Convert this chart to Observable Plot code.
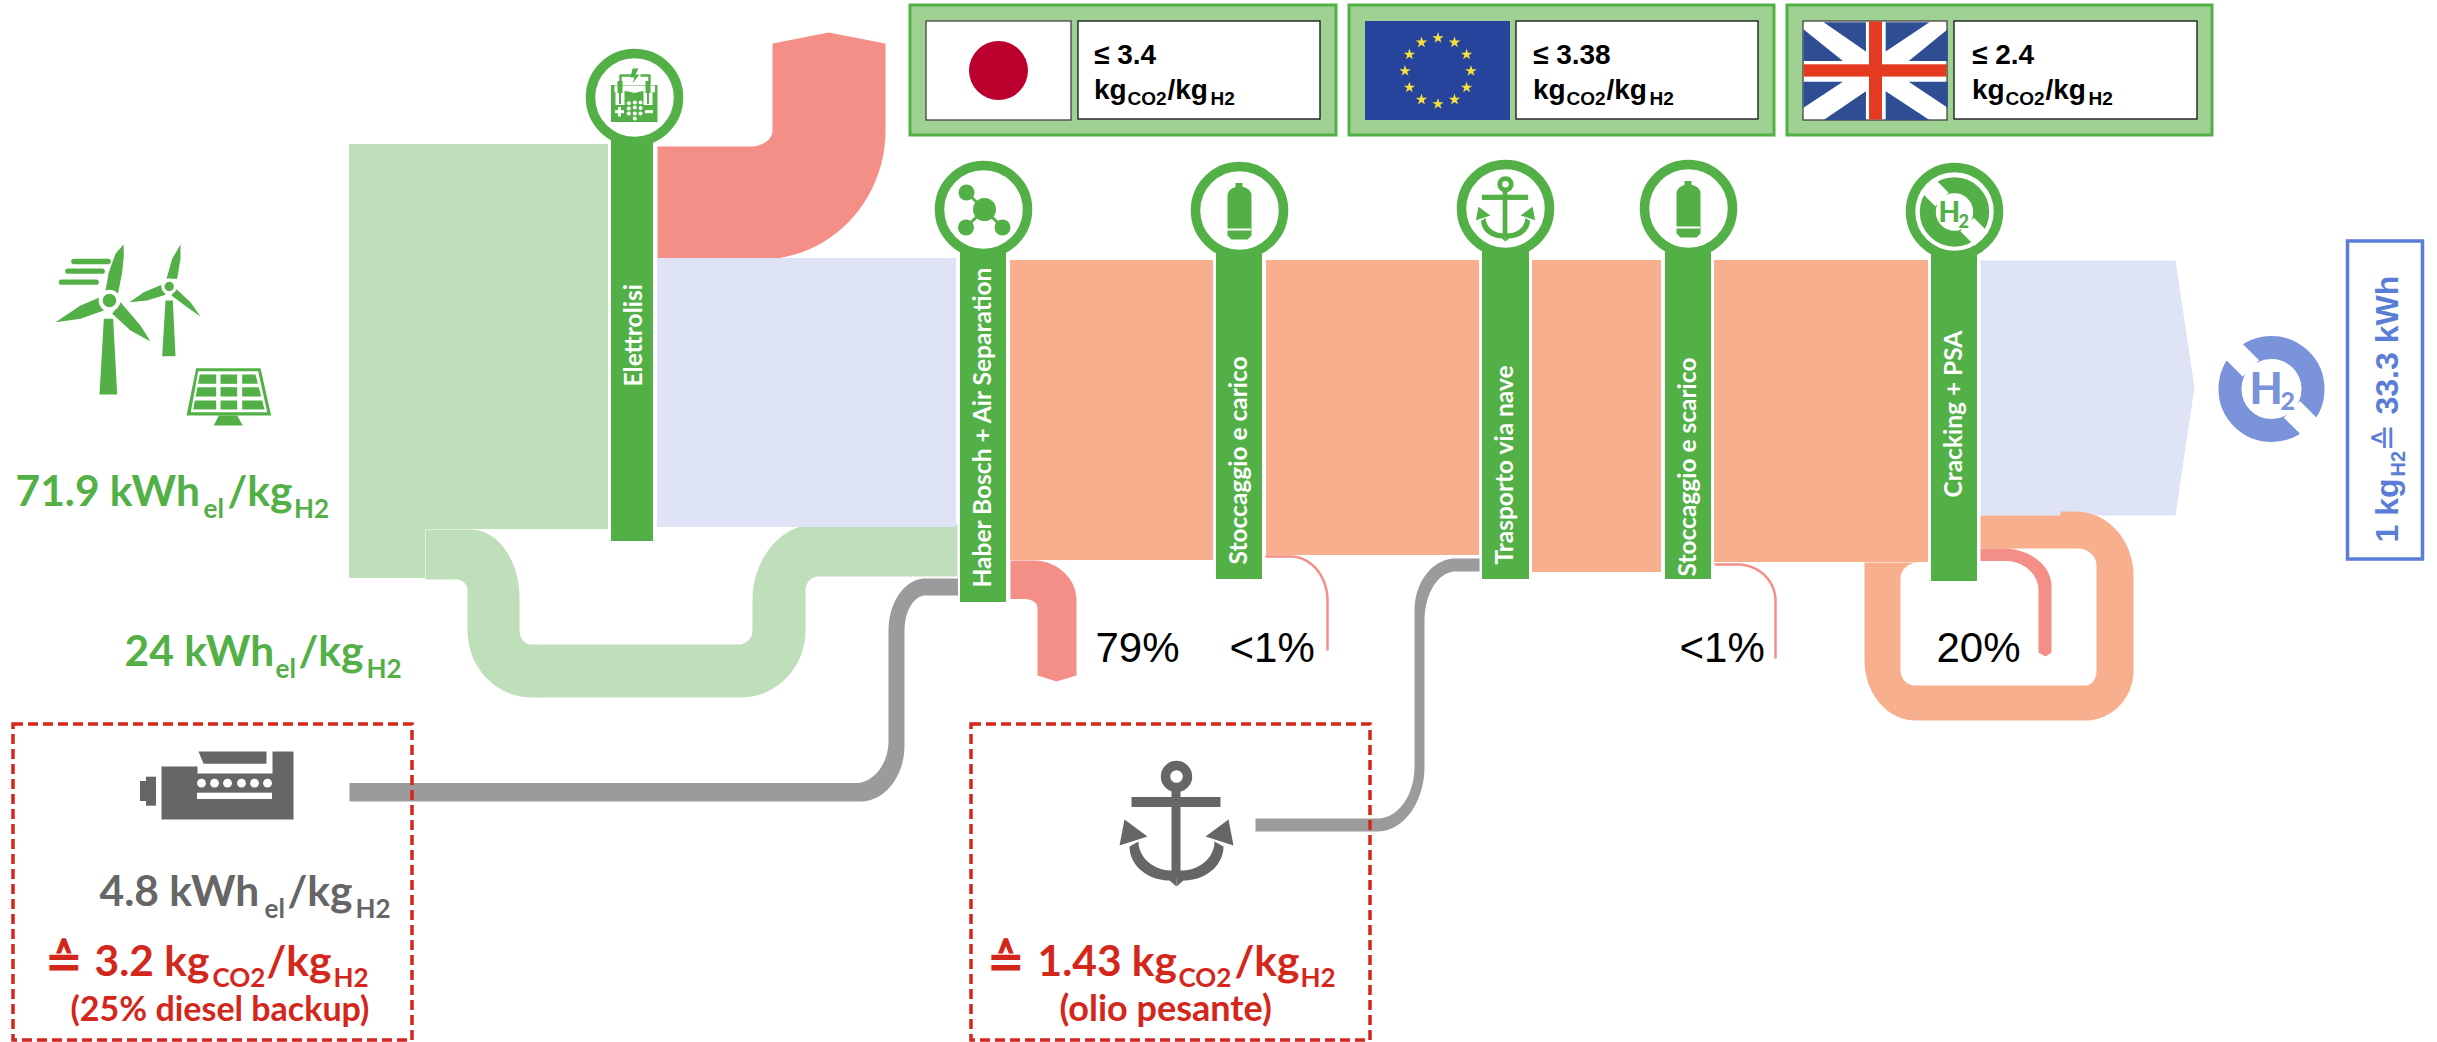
<!DOCTYPE html>
<html><head><meta charset="utf-8">
<style>html,body{margin:0;padding:0;background:#fff}svg{display:block;max-width:none}</style>
<script src="https://cdn.jsdelivr.net/npm/d3@7"></script>
<script src="https://cdn.jsdelivr.net/npm/@observablehq/plot@0.6"></script>
</head><body><div id="chart"></div>
<script>
// ---------- chart content ----------
const stageNames = ["Elettrolisi","Haber Bosch + Air Separation","Stoccaggio e carico","Trasporto via nave","Stoccaggio e scarico","Cracking + PSA"];
const stageLeft   = [610, 959, 1215, 1481, 1664, 1930];
const stageRight  = [654, 1007, 1263, 1530, 1712, 1978];
const stageTop    = [120, 240, 240, 240, 240, 240];
const stageBottom = [542, 603, 580, 580, 580, 582];
const stageCentre = [634, 983, 1239, 1505, 1688, 1954];
const ringY       = [97, 209, 210, 208, 208, 211];
const labelStart  = [386, 587, 564, 564, 576, 497];

const flowGreen = [[349,608,144,529],[349,425,529,578]];
const flowBlue = [[657,956,258,527],[1980,2175,260,515]];
const flowOrange = [[1010,1213,260,560],[1266,1479,260,555],[1532,1661,260,572],[1714,1928,260,562]];

const lossLabels = ["79%","<1%","<1%","20%"];
const lossX = [1095,1229,1679,1936];

const limitValues = ["≤ 3.4","≤ 3.38","≤ 2.4"];
const limitOffset = [0,439,878];
const limitBoxX = [[910,1336],[1349,1774],[1787,2212]];
const limitFlagX = [[926,1071],[1365,1510],[1803,1947]];
const limitTextX = [[1078,1320],[1516,1758],[1954,2197]];

const dashedX = [[13,412],[971,1370]];

const GREEN="#52B047", LGREEN="#BFDFBA", BLUE="#DEE4F6", ORANGE="#F7AF8D", RED="#F48F88", GREY="#9B9B9B", DGREY="#666666", DRED="#D3271C", HBLUE="#7A93DA", BBLUE="#5A7ED6";
const LATO="Lato, Carlito, sans-serif", ARIAL="'Liberation Sans', Arial, sans-serif", DEJA="'DejaVu Sans', sans-serif";

// ---------- helpers ----------
const N=24, T=[...Array(N+1).keys()].map(i=>i/N*Math.PI/2);
// quarter ellipse starting horizontally / starting vertically
const ch=(x0,y0,x1,y1)=>T.map(t=>[x0+(x1-x0)*Math.sin(t), y1+(y0-y1)*Math.cos(t)]);
const cv=(x0,y0,x1,y1)=>T.map(t=>[x1+(x0-x1)*Math.cos(t), y0+(y1-y0)*Math.sin(t)]);
const X=d=>d[0], Y=d=>d[1];
const poly=(pts,fill)=>Plot.line(pts,{x:X,y:Y,fill,stroke:"none"});
const path=(pts,stroke,strokeWidth,o={})=>Plot.line(pts,{x:X,y:Y,stroke,strokeWidth,...o});
const rects=(rows,fill,o={})=>Plot.rect(rows,{x1:d=>d[0],x2:d=>d[1],y1:d=>d[2],y2:d=>d[3],fill,...o});
const dots=(rows,o)=>Plot.dot(rows,{x:X,y:Y,...o});
const texts=(rows,fill,fontFamily,fontWeight,o={})=>Plot.text(rows,{x:d=>d[1],y:d=>d[2],text:d=>d[0],fontSize:d=>d[3],fill,fontFamily,fontWeight,textAnchor:"start",lineAnchor:"bottom",...o});

function anchor(cx,top,k,col){
  const px=x=>cx+x*k, py=y=>top+y*k;
  const side=s=>{
    const a=x=>cx+s*x*k;
    const outer=cv(a(47),py(85),a(7),py(119));
    const inner=cv(a(38),py(80),a(5),py(109));
    return [poly([...outer,[cx,py(125)],[cx,py(109)],...inner.reverse()],col),
            poly([[a(52),py(58)],[a(57),py(84)],[a(29),py(75)]],col)];
  };
  return [
    dots([[cx,py(15)]],{r:11*k,stroke:col,strokeWidth:9.4*k,fill:"none"}),
    rects([[px(-44.5),px(44.5),py(36),py(46)]],col),
    rects([[px(-4.5),px(4.5),py(24),py(118)]],col),
    ...side(1),...side(-1)
  ];
}
function tank(cx,dy){
  const top=186+dy, bot=239+dy, hw=12;
  return [
    rects([[cx-3.5,cx+3.5,183+dy,188+dy]],GREEN),
    poly([...cv(cx-hw,top+9,cx,top),...ch(cx,top,cx+hw,top+9),[cx+hw,bot-4],[cx+hw-4,bot],[cx-hw+4,bot],[cx-hw,bot-4]],GREEN),
    rects([[cx-hw,cx+hw,228.5+dy,230.5+dy]],"#fff")
  ];
}
function donut(cx,cy,outer,inner,slash,ext,col){
  const d=Math.SQRT1_2, r1=inner-1, r2=outer+ext;
  return [
    dots([[cx,cy]],{r:(outer+inner)/2,stroke:col,strokeWidth:outer-inner,fill:"none"}),
    path([[cx-r2*d,cy-r2*d],[cx-r1*d,cy-r1*d]],"#fff",slash,{strokeLinecap:"butt"}),
    path([[cx+r2*d,cy+r2*d],[cx+r1*d,cy+r1*d]],"#fff",slash,{strokeLinecap:"butt"})
  ];
}

// ---------- marks ----------
const marks=[];

// green supply and backup pipe
marks.push(rects(flowGreen,LGREEN));
marks.push(poly([[425,529],[470,529],...ch(470,529,519,597),[519,630],...cv(519,630,531,644),[738,644],...ch(738,644,752,630),[752,600],...cv(752,600,815,524),[957,524],[957,576],[818,576],...ch(818,576,805,590),[805,630],...cv(805,630,740,697),[531,697],...ch(531,697,467,630),[467,590],...cv(467,590,456,579),[425,579]],LGREEN));
// loss upward
marks.push(poly([[657,146],[750,146],...ch(750,146,772,130),[772,43],[828,32],[885,43],[885,130],...cv(885,130,760,259),[657,259]],RED));
// main flows
marks.push(rects(flowBlue.slice(0,1),BLUE));
marks.push(poly([[1980,260],[2175,260],[2194,387],[2175,515],[1980,515]],BLUE));
marks.push(rects(flowOrange,ORANGE));
// recycle loop
marks.push(poly([[1980,515],[2060,515],[2060,511],[2075,511],...ch(2075,511,2133,575),[2133,670],...cv(2133,670,2085,720),[1915,720],...ch(1915,720,1864,660),[1864,562],[1918,562],...ch(1918,562,1900,578),[1900,670],...cv(1900,670,1915,685),[2085,685],...ch(2085,685,2096,670),[2096,565],...cv(2096,565,2077,548),[1980,548]],ORANGE));
// losses
marks.push(poly([[1010,560],[1033,560],...ch(1033,560,1076,600),[1076,675],[1056,681],[1037,675],[1037,607],...cv(1037,607,1024,598.5),[1010,598.5]],RED));
marks.push(poly([[1980,548],[2003,548],...ch(2003,548,2051,586),[2051,652],[2045,656],[2038,652],[2038,590],...cv(2038,590,2005,560.5),[1980,560.5]],RED));
marks.push(path([[1266,556],[1290,556],...ch(1290,556,1327,600),[1327,649]],RED,2.5));
marks.push(path([[1715,564],[1737,564],...ch(1737,564,1775,600),[1775,657]],RED,2.5));
// fuel pipes
marks.push(poly([[349,782.5],[855,782.5],...ch(855,782.5,888,740),[888,630],...cv(888,630,925,578),[958,578],[958,595],[925,595],...ch(925,595,904,630),[904,745],...cv(904,745,860,801),[349,801]],GREY));
marks.push(poly([[1255,818],[1377,818],...ch(1377,818,1414,766),[1414,610],...cv(1414,610,1455,558),[1479,558],[1479,571],[1455,571],...ch(1455,571,1424,620),[1424,766],...cv(1424,766,1377,831),[1255,831]],GREY));

// stage bars
const stages=stageNames.map((name,i)=>({name,l:stageLeft[i],r:stageRight[i],t:stageTop[i],b:stageBottom[i],c:stageCentre[i],y:ringY[i],s:labelStart[i]}));
marks.push(Plot.rect(stages,{x1:"l",x2:"r",y1:"t",y2:"b",fill:GREEN,stroke:"#fff",strokeWidth:2}));
marks.push(Plot.dot(stages,{x:"c",y:"y",r:44,fill:"#fff",stroke:GREEN,strokeWidth:9.5}));
marks.push(Plot.text(stages,{x:"c",y:"s",text:"name",rotate:-90,textAnchor:"start",lineAnchor:"middle",fontSize:24.5,fontWeight:700,fontFamily:LATO,fill:"#fff"}));

// electrolyser icon
marks.push(rects([[611,657.5,85,122]],GREEN));
marks.push(poly([[614,85],[654.5,85],[654.5,92],[647,90],[640,91],[634,92.5],[628,91],[621,90],[614,92]],"#fff"));
marks.push(rects([[615.5,624.5,88,105],[643.5,652.5,88,105]],"#fff"));
marks.push(rects([[617.5,622.5,81,93],[645.5,650.5,81,93],[619,621,93,104],[647,649,93,104]],GREEN));
marks.push(path([[620,81],[620,75],[631,75]],GREEN,2.5));
marks.push(path([[641,75],[649,75],[649,81]],GREEN,2.5));
marks.push(poly([[632,68],[630,77],[634,77],[632,83],[639,74],[635,74],[638,68]],GREEN));
marks.push(rects([[615,624,110.2,113.2],[618,621,107,116.5],[645,653,110.2,113.2]],"#fff"));
marks.push(dots([[628.3,102.7],[634.3,102],[640,102],[634.3,107],[640,107.5],[628.3,113],[634.3,113],[640,113],[634.3,118],[628.3,108]],{r:2,fill:"#fff"}));

// molecule icon
marks.push(path([[966,192],[984,209]],GREEN,3));
marks.push(path([[965,227],[984,209]],GREEN,3));
marks.push(path([[1002,227],[984,209]],GREEN,3));
marks.push(dots([[984,209]],{r:11.5,fill:GREEN}));
marks.push(dots([[966,192],[965.5,227],[1002,227]],{r:8,fill:GREEN}));

// tanks, anchor, hydrogen icons
marks.push(...tank(1239,0),...tank(1688,-2));
marks.push(...anchor(1505,176,0.52,GREEN));
marks.push(...donut(1954,211.5,34.7,18.7,19,3.5,GREEN));
marks.push(texts([["H",1938,221.5,28]],GREEN,LATO,900));
marks.push(texts([["2",1958,227.5,18]],GREEN,LATO,900));
marks.push(...donut(2271,388.5,53,30,23,6,HBLUE));
marks.push(texts([["H",2249,403,43]],HBLUE,LATO,900));
marks.push(texts([["2",2280,409,25]],HBLUE,LATO,900));

// wind turbines
const tb=([x,y])=>[40+x/3,235+y/3];
[[[249,27],[225,55],[205,110],[195,165],[232,177],[245,110],[250,60]],
 [[45,260],[120,210],[175,187],[190,225],[120,250]],
 [[330,318],[300,270],[240,200],[215,235],[270,285]],
 [[177,477],[190,250],[218,250],[230,477]],
 [[420,27],[395,70],[378,130],[410,130],[420,70]],
 [[267,200],[310,170],[365,147],[375,178],[320,195]],
 [[480,243],[450,200],[405,158],[393,180],[440,215]],
 [[365,362],[375,195],[397,195],[405,362]]
].forEach(p=>marks.push(poly(p.map(tb),GREEN)));
marks.push(dots([tb([207,195])],{r:8.8,fill:GREEN,stroke:"#fff",strokeWidth:4}));
marks.push(dots([tb([386,153])],{r:6.3,fill:GREEN,stroke:"#fff",strokeWidth:3.2}));
[[100,203,78],[82,185,107],[63,167,140]].forEach(([a,b,y])=>marks.push(path([tb([a,y]),tb([b,y])],GREEN,5.3,{strokeLinecap:"round"})));
// solar panel
marks.push(poly([[467,398],[660,398],[692,540],[438,540]].map(tb),GREEN));
marks.push(poly([[473,407],[653,407],[680,530],[451,530]].map(tb),"#fff"));
const cols=[[478,527,458,527],[540,590,540,590],[605,645,605,672]];
[[417,445],[455,483],[495,522]].forEach(([a,b])=>cols.forEach(([tl,tr,bl,br])=>{
  const f=(t,bt,y)=>t+(bt-t)*(y-417)/105;
  marks.push(poly([[f(tl,bl,a),a],[f(tr,br,a),a],[f(tr,br,b),b],[f(tl,bl,b),b]].map(tb),GREEN));
}));
marks.push(poly([[535,540],[590,540],[607,570],[520,570]].map(tb),GREEN));

// engine icon
marks.push(poly([[161,766],[197,766],[197,773],[272,773],[272,751],[293,751],[293,819],[161,819]],DGREY));
marks.push(poly([[198,751],[266,751],[266,763.3],[203,763.3]],DGREY));
marks.push(rects([[140,147,781,801],[146,156,776.7,805.7]],DGREY));
marks.push(dots([[201,782.7],[214,782.7],[227,782.7],[241,782.7],[254,782.7],[267,782.7]],{r:4.4,fill:"#fff"}));
marks.push(rects([[197,272,792.7,799]],"#fff"));
// grey anchor
marks.push(...anchor(1176,761,1,DGREY));

// dashed boxes
dashedX.forEach(([a,b])=>marks.push(Plot.rect([[a,b,724,1040]],{x1:d=>d[0],x2:d=>d[1],y1:d=>d[2],y2:d=>d[3],fill:"none",stroke:DRED,strokeWidth:3.5,strokeDasharray:"10 5"})));

// limit boxes
limitBoxX.forEach(([a,b])=>marks.push(rects([[a,b,5,135]],"#9FD193",{stroke:GREEN,strokeWidth:3})));
limitTextX.forEach(([a,b])=>marks.push(rects([[a,b,21,119]],"#fff",{stroke:"#111",strokeWidth:1.3})));
marks.push(rects([limitFlagX[0].concat([21,120])],"#fff",{stroke:"#444",strokeWidth:1.3}));
marks.push(dots([[998,70]],{r:29.5,fill:"#BC002D"}));
marks.push(rects([limitFlagX[1].concat([21,120])],"#26449C"));
const hours=[...Array(12).keys()];
marks.push(Plot.dot(hours,{x:h=>1437.5+33*Math.sin(h*Math.PI/6),y:h=>70.5-33*Math.cos(h*Math.PI/6),symbol:"star",r:3.6,fill:"#F8E03B",stroke:"none"}));
// union flag
marks.push(rects([limitFlagX[2].concat([21,120])],"#fff",{stroke:"#444",strokeWidth:1.3}));
const uk=([x,y])=>[1700+x*.47,y*.383];
[[[262,57],[352,57],[352,133]],[[219,75],[219,158],[303,158]],[[394,57],[487,57],[394,133]],[[526,75],[443,158],[526,158]],
 [[219,212],[303,212],[219,280]],[[352,237],[352,312],[262,312]],[[443,212],[526,212],[526,280]],[[394,237],[394,312],[487,312]]]
 .forEach(t=>marks.push(poly(t.map(uk),"#2E4D92")));
marks.push(rects([[1869,1882,21.5,119.5],[1803.5,1946.5,64.3,76.6]],"#E53A22"));
limitValues.forEach((v,i)=>{
  const d=limitOffset[i];
  marks.push(texts([[v,1093.5+d,63,28],["kg",1093.5+d,98,28],["/kg",1167+d,98,28]],"#000",ARIAL,700));
  marks.push(texts([["CO2",1127+d,104,19],["H2",1210+d,104,19]],"#000",ARIAL,700));
});

// energy labels
marks.push(texts([["71.9 kWh",15,505.7,42.5],["/kg",227,505.7,42.5],["24 kWh",124,665.7,42.5],["/kg",298,665.7,42.5]],GREEN,LATO,700));
marks.push(texts([["el",203,517,26],["H2",293.5,517,26],["el",275,677,26],["H2",366,677,26]],GREEN,LATO,700));
marks.push(texts([["4.8 kWh",99,905,42.5],["/kg",287,905,42.5]],DGREY,LATO,700));
marks.push(texts([["el",264,917,26],["H2",355,917,26]],DGREY,LATO,700));
marks.push(texts([["≙",44,976,46],["≙",986,976,46]],DRED,DEJA,700));
marks.push(texts([["3.2 kg",94,975,42.5],["/kg",266,975,42.5],["1.43 kg",1037,975,42.5],["/kg",1234,975,42.5]],DRED,LATO,700));
marks.push(texts([["CO2",212,986,26],["H2",333,986,26],["CO2",1178,986,26],["H2",1300,986,26]],DRED,LATO,700));
marks.push(texts([["(25% diesel backup)",70,1020,34],["(olio pesante)",1059,1020,36]],DRED,LATO,700));

// loss labels
marks.push(texts(lossLabels.map((t,i)=>[t,lossX[i],661,42]),"#000",ARIAL,400));

// hydrogen reference box
marks.push(rects([[2347.5,2422.5,241,559]],"none",{stroke:BBLUE,strokeWidth:3.5}));
marks.push(texts([["1 kg",2397,542,32],["33.3 kWh",2397,414,32]],BBLUE,ARIAL,700,{rotate:-90}));
marks.push(texts([["H2",2404,476,20]],BBLUE,ARIAL,700,{rotate:-90}));
marks.push(texts([["≙",2397,451,33]],BBLUE,DEJA,400,{rotate:-90}));

const chart=Plot.plot({width:2437,height:1042,margin:0,
  x:{domain:[0,2437],range:[0,2437],axis:null},
  y:{domain:[0,1042],range:[0,1042],axis:null},
  style:{background:"#fff"},marks});
document.getElementById("chart").append(chart);
</script></body></html>
